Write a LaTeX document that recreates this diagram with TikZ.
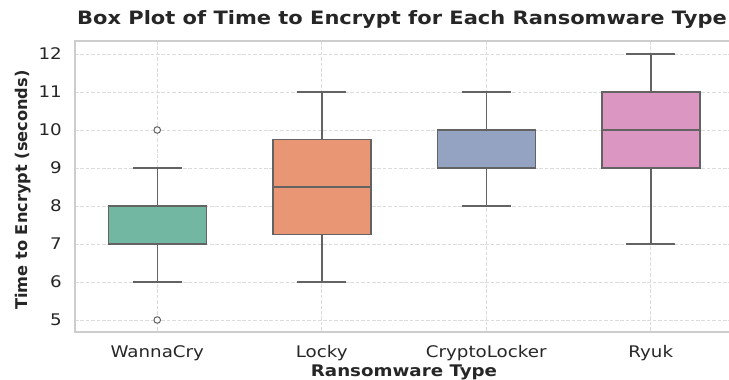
\documentclass[tikz,border=0pt]{standalone}
\usepackage{fontspec}
\setmainfont{DejaVu Sans}[FakeStretch=1.14]
\newfontfamily\uprightface{DejaVu Sans}
\usepackage{tikz}
\usetikzlibrary{calc}

\definecolor{wcgreen}{HTML}{71B7A1}
\definecolor{lkorange}{HTML}{E99675}
\definecolor{clblue}{HTML}{95A3C3}
\definecolor{rypink}{HTML}{DB96C1}
\definecolor{boxline}{HTML}{636363}
\definecolor{gridgray}{HTML}{DCDCDC}
\definecolor{framegray}{HTML}{CDCDCD}
\definecolor{labeltext}{HTML}{262626}

\tikzset{
  gridline/.style={gridgray, line width=0.9pt, dash pattern=on 3.6pt off 1.8pt},
  boxedge/.style={boxline, line width=1.5pt},
  ticklabel/.style={labeltext, inner sep=0pt, font=\fontsize{16}{19}\selectfont},
  axislabel/.style={labeltext, inner sep=0pt, font=\fontsize{16}{19}\selectfont\bfseries},
  titlelabel/.style={labeltext, inner sep=0pt, font=\fontsize{18.4}{22}\selectfont\bfseries}
}

\begin{document}
\begin{tikzpicture}[x=1pt, y=-1pt]
\useasboundingbox (0,0) rectangle (729,380);

% title
\node[titlelabel, anchor=base west] (title) at (77,24) {Box Plot of Time to Encrypt for Each Ransomware Type};

% grid, category lines
\foreach \c in {157.25,321.75,486.25,650.75}
  \draw[gridline] (\c,41) -- (\c,332);

% axes in data units: y = seconds
\begin{scope}[shift={(0,510)}, y=38pt]
\foreach \v in {5,...,12} {
  \draw[gridline] (75,\v) -- (733,\v);
  \node[ticklabel, anchor=base east, yshift=-5.8pt] (ytick\v) at (62,\v) {\v};
}
\draw[framegray, line width=1.2pt] (733,12.342) -- (75,12.342) -- (75,4.684) -- (733,4.684);

% boxes: centre / low whisker / q1 / median / q3 / high whisker / fill
\foreach \c/\lo/\qa/\md/\qb/\hi/\col in {157.25/6/7/7/8/9/wcgreen,
    321.75/6/7.25/8.5/9.75/11/lkorange,
    486.25/8/9/9/10/11/clblue,
    650.75/7/9/10/11/12/rypink} {
  \draw[boxedge] (\c,\lo) -- (\c,\qa) (\c,\qb) -- (\c,\hi);
  \draw[boxedge] ({\c-24.5},\lo) -- ({\c+24.5},\lo);
  \draw[boxedge] ({\c-24.5},\hi) -- ({\c+24.5},\hi);
  \draw[boxedge, fill=\col] ({\c-49},\qa) rectangle ({\c+49},\qb);
  \draw[boxedge] ({\c-49},\md) -- ({\c+49},\md);
}

% outliers
\draw[boxedge, line width=1pt, fill=white] (157.25,10) circle (3.3pt);
\draw[boxedge, line width=1pt, fill=white] (157.25,5) circle (3.3pt);
\end{scope}

% category names
\node[ticklabel, anchor=base] (wannacry) at (157.25,357) {WannaCry};
\node[ticklabel, anchor=base] (locky) at (321.75,357) {Locky};
\node[ticklabel, anchor=base] (cryptolocker) at (486.25,357) {CryptoLocker};
\node[ticklabel, anchor=base] (ryuk) at (650.75,357) {Ryuk};

% axis labels
\node[axislabel, anchor=base] (xlabel) at (404,376) {Ransomware Type};
\node[axislabel, font=\fontsize{16.2}{19}\selectfont\uprightface\bfseries, rotate=90] (ylabel) at (23.5,190) {Time to Encrypt (seconds)};
\end{tikzpicture}
\end{document}
